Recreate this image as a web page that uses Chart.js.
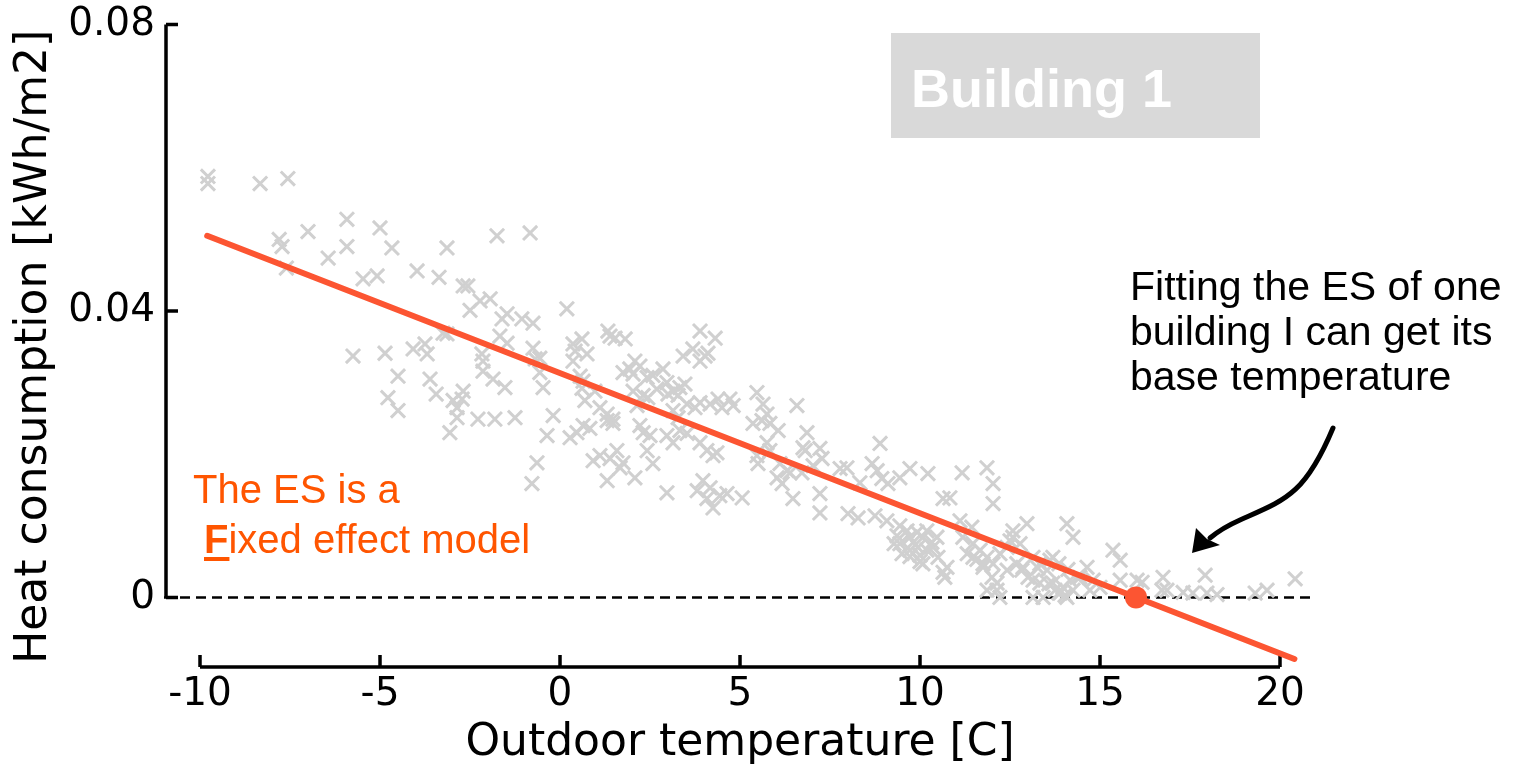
<!DOCTYPE html>
<html>
<head>
<meta charset="utf-8">
<script src="https://cdn.jsdelivr.net/npm/chart.js"></script>
<style>
  body { margin: 0; background: #fff; }
</style>
</head>
<body>
<canvas id="myChart" width="1529" height="767"></canvas>
<script>
  // daily observations: outdoor temperature [C] and heat consumption [kWh/m2]
  const tempX = [
    -9.78, -9.78, -8.33, -7.56, -5.92, -5.0, -7.0, -7.8, -7.72, -5.92, -4.67, -6.44, -1.75, -0.83, -3.14, -7.6,
    -5.47, -5.08, -3.97, -3.36, -2.69, -2.56, -2.22, -1.94, -2.5, -1.47, -1.61, -1.06, -0.75, 0.19, -3.25, -3.14,
    -1.67, -1.47, -0.75, 0.36, 0.42, -5.75, -4.86, -4.08, -3.75, -3.69, -2.17, -2.14, -0.69, 0.36, -4.5, -3.61,
    -2.14, -1.86, -1.53, -0.47, -0.56, -4.78, -4.5, -3.44, -2.97, -2.86, -2.72, -2.69, -2.86, -2.28, -1.81, -1.25,
    -0.19, -3.06, -0.36, 0.28, 0.47,
    0.61, 1.33, 1.53, 1.81, 1.39, 3.89, 4.31, 3.42, 3.69, 4.03, 4.11, 3.89, -0.56, -0.64, -0.78, 0.75,
    1.75, 1.94, 2.08, 2.03, 2.22, 2.42, 2.58, 2.86, 2.97, 3.14, 3.33, 3.47, 3.28, 0.56, 0.69, 1.11, 1.31, 1.47,
    0.64, 0.61, 0.97, 2.03, 2.31, 2.14, 2.44, 2.69, 3.0, 0.64, 0.83, 1.31, 1.47, 2.22, 2.31, 2.5,
    3.14, 3.28, 3.53, 3.75, 3.89, 4.17, 4.39, 4.5, 4.72, 4.81, 2.97, 3.14, 3.33, 3.53,
    0.92, 1.11, 1.39, 1.58, 1.75, 1.67, 1.31, 2.08, 2.42, 2.58, 3.89, 4.08, 4.36, 4.25,
    3.81, 3.97, 4.17, 4.08, 4.25, 4.44, 4.64, 2.97, 5.06, 5.47, 5.64, 5.75, 5.61, 5.36, 5.83, 6.58,
    6.06, 5.75, 5.83, 5.47, 5.5, 6.11, 6.31, 6.03, 6.17, 6.39, 6.72, 6.86, 6.81, 7.22, 7.28, 7.03,
    6.47, 7.22, 7.22, 7.78, 7.97, 8.33, 8.67, 8.81, 8.89, 8.94, 9.11, 8.0, 8.28, 8.75, 9.08, 6.75,
    9.44, 9.72, 10.22, 10.64, 10.83, 11.17, 11.86, 12.03, 12.03, 11.11, 11.44,
    9.44, 9.64, 9.92, 10.08, 9.81, 9.44, 9.72, 10.0, 10.19, 10.36, 10.47, 10.5, 10.75, 10.69, 10.08, 9.36,
    10.19, 9.72, 9.94, 10.33,
    11.19, 11.47, 11.67, 11.86, 12.03, 12.22, 12.42, 12.58, 12.78, 12.97, 12.58, 11.47, 11.75, 12.0, 12.14, 11.86,
    12.22, 12.42, 12.69, 12.86, 13.14, 13.33, 13.53, 13.69, 13.86, 14.08, 14.25, 13.69, 13.97, 13.33, 13.14,
    15.36, 15.56, 15.56, 16.03, 16.75, 16.72, 14.64, 14.81, 15.0, 14.44, 14.25, 13.89,
    17.92, 20.42, 16.86, 17.31, 17.58, 17.97, 18.25, 19.31, 19.64, 16.17, 13.61, 14.17, 14.72, 13.75, 14.03,
    13.14, 13.42, 14.08, 12.5, 11.31, 11.58, 11.75, 12.14, 12.83, 13.0, 13.28, 13.58, 13.86, 14.11, 14.36,
    9.28, 9.5, 9.72, 10.0, 10.64
  ];
  const heatY = [
    0.0588, 0.0578, 0.0578, 0.0585, 0.0528, 0.0516, 0.0511, 0.0500, 0.0490, 0.0490, 0.0488, 0.0474, 0.0505, 0.0509, 0.0488, 0.0460,
    0.0445, 0.0449, 0.0456, 0.0447, 0.0435, 0.0435, 0.0414, 0.0417, 0.0401, 0.0396, 0.0389, 0.0389, 0.0383, 0.0403, 0.0369, 0.0368,
    0.0365, 0.0355, 0.0348, 0.0354, 0.0344, 0.0337, 0.0341, 0.0347, 0.0354, 0.0340, 0.0340, 0.0330, 0.0333, 0.0330, 0.0309, 0.0305,
    0.0316, 0.0305, 0.0293, 0.0293, 0.0314, 0.0279, 0.0261, 0.0284, 0.0275, 0.0265, 0.0277, 0.0288, 0.0251, 0.0249, 0.0249, 0.0251,
    0.0254, 0.0230, 0.0226, 0.0223, 0.0230,
    0.0361, 0.0372, 0.0362, 0.0361, 0.0365, 0.0372, 0.0362, 0.0337, 0.0347, 0.0337, 0.0341, 0.0330, 0.0334, 0.0188, 0.0159, 0.0340,
    0.0314, 0.0319, 0.0330, 0.0312, 0.0323, 0.0307, 0.0310, 0.0319, 0.0300, 0.0288, 0.0293, 0.0298, 0.0282, 0.0309, 0.0275, 0.0265, 0.0256, 0.0249,
    0.0302, 0.0292, 0.0288, 0.0288, 0.0282, 0.0268, 0.0279, 0.0291, 0.0284, 0.0240, 0.0236, 0.0247, 0.0243, 0.0240, 0.0230, 0.0226,
    0.0261, 0.0251, 0.0270, 0.0265, 0.0272, 0.0270, 0.0277, 0.0265, 0.0277, 0.0268, 0.0226, 0.0216, 0.0233, 0.0229,
    0.0191, 0.0198, 0.0194, 0.0205, 0.0188, 0.0181, 0.0163, 0.0167, 0.0205, 0.0187, 0.0216, 0.0205, 0.0202, 0.0198,
    0.0149, 0.0163, 0.0153, 0.0138, 0.0125, 0.0142, 0.0145, 0.0146, 0.0139, 0.0286, 0.0270, 0.0256, 0.0247, 0.0243, 0.0243, 0.0268,
    0.0233, 0.0216, 0.0205, 0.0198, 0.0187, 0.0187, 0.0177, 0.0167, 0.0159, 0.0174, 0.0174, 0.0230, 0.0205, 0.0208, 0.0194, 0.0184,
    0.0138, 0.0145, 0.0118, 0.0180, 0.0181, 0.0160, 0.0187, 0.0177, 0.0215, 0.0166, 0.0159, 0.0117, 0.0111, 0.0114, 0.0107, 0.0209,
    0.0167, 0.0180, 0.0173, 0.0138, 0.0139, 0.0174, 0.0181, 0.0159, 0.0131, 0.0107, 0.0098,
    0.0100, 0.0093, 0.0091, 0.0084, 0.0077, 0.0075, 0.0066, 0.0059, 0.0066, 0.0070, 0.0084, 0.0056, 0.0042, 0.0028, 0.0047, 0.0086,
    0.0093, 0.0084, 0.0070, 0.0077,
    0.0084, 0.0075, 0.0066, 0.0056, 0.0047, 0.0061, 0.0070, 0.0084, 0.0075, 0.0103, 0.0093, 0.0056, 0.0042, 0.0028, 0.0020, 0.0010,
    0.0000, 0.0038, 0.0047, 0.0042, 0.0056, 0.0047, 0.0038, 0.0056, 0.0047, 0.0103, 0.0084, 0.0020, 0.0014, 0.0020, 0.0024,
    0.0066, 0.0052, 0.0024, 0.0024, 0.0028, 0.0010, 0.0042, 0.0024, 0.0014, 0.0028, 0.0010, 0.0006,
    0.0031, 0.0026, 0.0010, 0.0007, 0.0006, 0.0006, 0.0004, 0.0006, 0.0010, 0.0021, 0.0052, 0.0024, 0.0010, 0.0010, 0.0003,
    0.0000, 0.0000, 0.0000, 0.0079, 0.0061, 0.0053, 0.0047, 0.0010, 0.0038, 0.0028, 0.0041, 0.0019, 0.0006, 0.0039, 0.0028,
    0.0075, 0.0061, 0.0057, 0.0050, 0.0035
  ];

  // fitted energy signature and its base temperature
  const fitX = [-9.8, 20.4];
  const fitY = [0.0505, -0.0086];
  const zeroX = [-11, 20.9];
  const zeroY = [0, 0];
  const baseTemp = [16.0];
  const baseHeat = [0];

  const xTicks = [-10, -5, 0, 5, 10, 15, 20];
  const yTicks = [0, 0.04, 0.08];

  const orange = '#fc5532';
  const textOrange = '#ff5500';

  const pts = (xs, ys) => xs.map((x, i) => ({ x: x, y: ys[i] }));

  // matplotlib-like detached spines with inward ticks
  const spines = {
    id: 'spines',
    beforeDatasetsDraw(chart) {
      const ctx = chart.ctx;
      const xs = chart.scales.x, ys = chart.scales.y;
      const x0 = xs.getPixelForValue(xTicks[0]);
      const x1 = xs.getPixelForValue(xTicks[xTicks.length - 1]);
      const yTop = ys.getPixelForValue(yTicks[yTicks.length - 1]);
      const yBot = ys.getPixelForValue(yTicks[0]);
      const left = chart.chartArea.left + 2;
      const bottom = chart.chartArea.bottom - 2;
      ctx.save();
      ctx.strokeStyle = '#000';
      ctx.lineWidth = 3.5;
      ctx.lineCap = 'butt';
      ctx.beginPath();
      ctx.moveTo(left, yTop); ctx.lineTo(left, yBot);
      ctx.moveTo(x0, bottom); ctx.lineTo(x1, bottom);
      yTicks.forEach(v => {
        const p = ys.getPixelForValue(v);
        ctx.moveTo(left, p); ctx.lineTo(left + 12, p);
      });
      xTicks.forEach(v => {
        const p = xs.getPixelForValue(v);
        ctx.moveTo(p, bottom); ctx.lineTo(p, bottom - 12);
      });
      ctx.stroke();
      ctx.restore();
    }
  };

  const notes = {
    id: 'notes',
    afterDraw(chart) {
      const ctx = chart.ctx;
      ctx.save();
      // title box
      ctx.fillStyle = '#d9d9d9';
      ctx.fillRect(891, 33, 369, 105);
      ctx.fillStyle = '#ffffff';
      ctx.font = 'bold 54px "Liberation Sans", Arial, sans-serif';
      ctx.textBaseline = 'alphabetic';
      ctx.fillText('Building 1', 911, 107);

      // right annotation
      ctx.fillStyle = '#000';
      ctx.font = '41px "Liberation Sans", Arial, sans-serif';
      ctx.fillText('Fitting the ES of one', 1130, 300);
      ctx.fillText('building I can get its', 1130, 345);
      ctx.fillText('base temperature', 1130, 390);

      // curved arrow
      ctx.strokeStyle = '#000';
      ctx.lineWidth = 5;
      ctx.lineCap = 'round';
      ctx.beginPath();
      ctx.moveTo(1333, 428);
      ctx.bezierCurveTo(1305, 495, 1285, 500, 1240, 520);
      ctx.quadraticCurveTo(1222, 528, 1210, 538);
      ctx.stroke();
      ctx.fillStyle = '#000';
      ctx.beginPath();
      ctx.moveTo(1192, 553);
      ctx.lineTo(1196, 528);
      ctx.lineTo(1207, 539);
      ctx.lineTo(1220, 545);
      ctx.closePath();
      ctx.fill();

      // left annotation
      ctx.fillStyle = textOrange;
      ctx.font = '40px "Liberation Sans", Arial, sans-serif';
      ctx.fillText('The ES is a', 193, 503);
      ctx.font = 'bold 40px "Liberation Sans", Arial, sans-serif';
      ctx.fillText('F', 204, 553);
      const fw = ctx.measureText('F').width;
      ctx.fillRect(204, 557, fw + 1, 4);
      ctx.font = '40px "Liberation Sans", Arial, sans-serif';
      ctx.fillText('ixed effect model', 204 + fw, 553);
      ctx.restore();
    }
  };

  const ctx = document.getElementById('myChart').getContext('2d');
  const myChart = new Chart(ctx, {
    type: 'scatter',
    data: {
      datasets: [
        {
          data: pts(baseTemp, baseHeat),
          pointRadius: 11,
          pointBackgroundColor: orange,
          pointBorderWidth: 0,
          order: 0
        },
        {
          type: 'line',
          data: pts(fitX, fitY),
          borderColor: orange,
          borderWidth: 6,
          borderCapStyle: 'round',
          pointRadius: 0,
          order: 1
        },
        {
          data: pts(tempX, heatY),
          pointStyle: 'crossRot',
          pointRadius: 10,
          borderColor: '#d0d0d0',
          pointBorderColor: '#d0d0d0',
          pointBorderWidth: 3,
          order: 2
        },
        {
          type: 'line',
          data: pts(zeroX, zeroY),
          borderColor: '#000',
          borderWidth: 2.5,
          borderDash: [10, 6],
          pointRadius: 0,
          order: 3
        }
      ]
    },
    options: {
      responsive: false,
      animation: false,
      layout: { padding: { top: 0, right: 213, bottom: 0, left: 0 } },
      plugins: {
        legend: { display: false },
        tooltip: { enabled: false }
      },
      scales: {
        x: {
          type: 'linear',
          min: -11,
          max: 21,
          afterBuildTicks: s => { s.ticks = xTicks.map(v => ({ value: v })); },
          afterFit: s => { s.height = 98; },
          grid: { display: false, drawTicks: false },
          border: { display: false },
          ticks: {
            padding: 2,
            color: '#000',
            font: { family: 'DejaVu Sans', size: 39 },
            callback: v => String(v)
          },
          title: {
            display: true,
            text: 'Outdoor temperature [C]',
            color: '#000',
            font: { family: 'DejaVu Sans', size: 44, lineHeight: 1 },
            padding: { top: 0, bottom: 1 }
          }
        },
        y: {
          type: 'linear',
          min: -0.01,
          max: 0.08,
          afterBuildTicks: s => { s.ticks = yTicks.map(v => ({ value: v })); },
          afterFit: s => { s.width = 164; },
          grid: { display: false, drawTicks: false },
          border: { display: false },
          ticks: {
            padding: 9,
            color: '#000',
            font: { family: 'DejaVu Sans', size: 39, lineHeight: 0.8 },
            callback: v => String(v)
          },
          title: {
            display: true,
            text: 'Heat consumption [kWh/m2]',
            color: '#000',
            font: { family: 'DejaVu Sans', size: 44, lineHeight: 1 },
            padding: { top: 13, bottom: 0 }
          }
        }
      }
    },
    plugins: [spines, notes]
  });
</script>
</body>
</html>
